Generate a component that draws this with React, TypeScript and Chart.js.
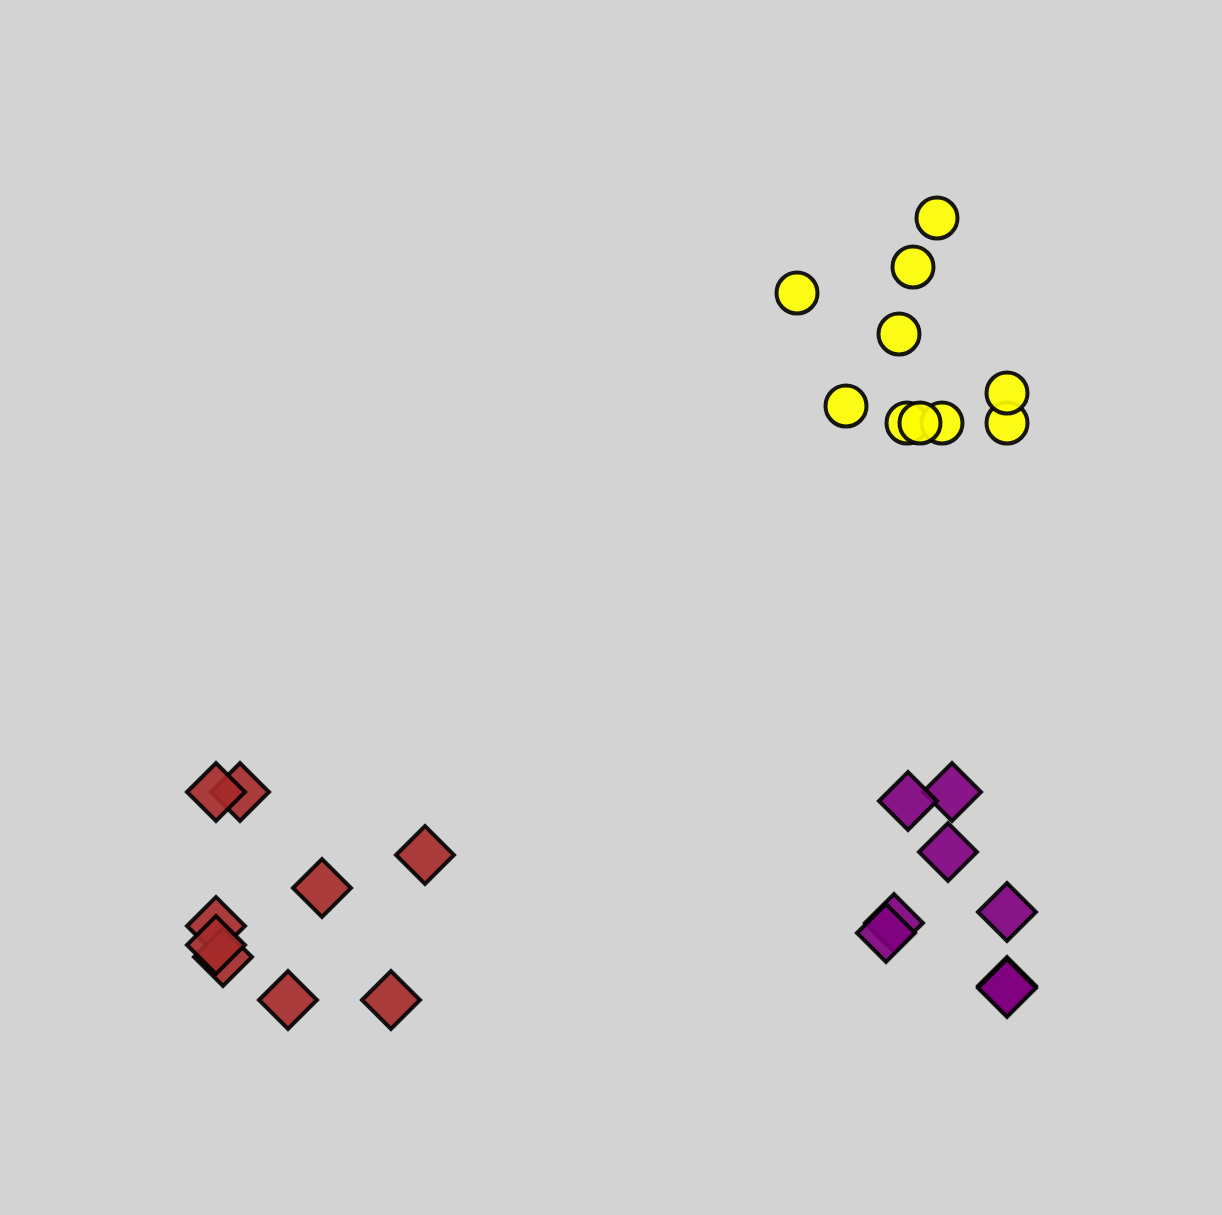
import React, { useEffect, useRef } from "react";
import { Chart, registerables } from "chart.js";

Chart.register(...registerables);

// Data in arbitrary units (x: 0..12.22, y: 0..12.15)
const yellowX = [9.37, 9.13, 7.97, 8.99, 8.46, 9.07, 9.42, 9.2, 10.07, 10.07];
const yellowY = [9.97, 9.48, 9.22, 8.81, 8.09, 7.92, 7.92, 7.92, 7.92, 8.22];

const brownX = [2.4, 2.16, 4.25, 3.22, 2.16, 2.23, 2.16, 2.88, 3.91];
const brownY = [4.23, 4.23, 3.6, 3.27, 2.89, 2.58, 2.7, 2.15, 2.15];

const purpleX = [9.52, 9.08, 9.48, 8.94, 8.86, 10.07, 10.07, 10.07];
const purpleY = [4.23, 4.14, 3.63, 2.92, 2.82, 3.03, 2.29, 2.27];

const toPoints = (xs: number[], ys: number[]) => xs.map((x, i) => ({ x, y: ys[i] }));

const bgPlugin = {
  id: "bg",
  beforeDraw(chart: any) {
    const { ctx, width, height } = chart;
    ctx.save();
    ctx.fillStyle = "#d3d3d3";
    ctx.fillRect(0, 0, width, height);
    ctx.restore();
  },
};

export default function App() {
  const ref = useRef<HTMLCanvasElement | null>(null);
  useEffect(() => {
    document.body.style.margin = "0";
    document.body.style.background = "#d3d3d3";
    const chart = new Chart(ref.current!, {
      type: "scatter",
      data: {
        datasets: [
          {
            label: "yellow",
            data: toPoints(yellowX, yellowY),
            pointStyle: "circle",
            pointRadius: 20.5,
            pointHoverRadius: 20.5,
            backgroundColor: "rgba(255,255,0,0.9)",
            borderColor: "rgba(0,0,0,0.9)",
            borderWidth: 4,
          },
          {
            label: "brown",
            data: toPoints(brownX, brownY),
            pointStyle: "rectRot",
            pointRadius: 29,
            pointHoverRadius: 29,
            backgroundColor: "rgba(165,42,42,0.9)",
            borderColor: "rgba(0,0,0,0.9)",
            borderWidth: 4,
          },
          {
            label: "purple",
            data: toPoints(purpleX, purpleY),
            pointStyle: "rectRot",
            pointRadius: 29,
            pointHoverRadius: 29,
            backgroundColor: "rgba(128,0,128,0.9)",
            borderColor: "rgba(0,0,0,0.9)",
            borderWidth: 4,
          },
        ],
      },
      options: {
        responsive: false,
        animation: false,
        layout: { padding: 0, autoPadding: false },
        plugins: { legend: { display: false }, tooltip: { enabled: false } },
        scales: {
          x: { type: "linear", min: 0, max: 12.22, display: false },
          y: { type: "linear", min: 0, max: 12.15, display: false },
        },
      },
      plugins: [bgPlugin],
    });
    return () => chart.destroy();
  }, []);
  return (
    <div style={{ width: 1222, height: 1215 }}>
      <canvas ref={ref} width={1222} height={1215} />
    </div>
  );
}
